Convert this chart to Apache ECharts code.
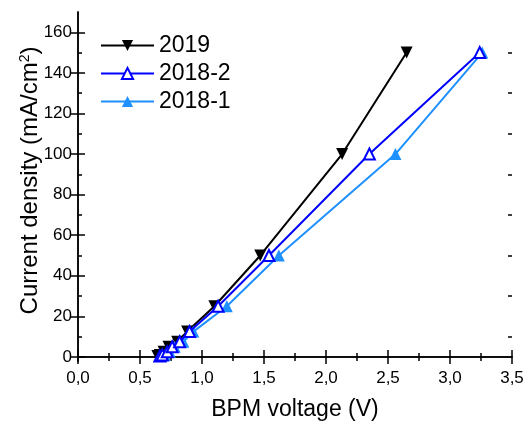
<!DOCTYPE html>
<html>
<head>
<meta charset="utf-8">
<script src="https://cdn.jsdelivr.net/npm/echarts@6/dist/echarts.min.js"></script>
<style>html,body{margin:0;padding:0;background:#fff}#c{width:526px;height:421px}</style>
</head>
<body>
<div id="c"></div>
<script>
const currentDensity = [0.5, 1, 2.5, 5, 7.5, 12.5, 25, 50, 100, 150];
const voltage2019 = [0.64, 0.66, 0.69, 0.73, 0.80, 0.88, 1.10, 1.47, 2.13, 2.65];
const voltage2018_2 = [0.66, 0.68, 0.72, 0.76, 0.82, 0.90, 1.13, 1.54, 2.35, 3.24];
const voltage2018_1 = [0.67, 0.70, 0.74, 0.78, 0.85, 0.93, 1.20, 1.62, 2.56, 3.26];
const yMajorTicks = [0, 20, 40, 60, 80, 100, 120, 140, 160];
const yMinorTicks = [10, 30, 50, 70, 90, 110, 130, 150];
const seriesNames = ['2019', '2018-2', '2018-1'];

const FONT = '"Liberation Sans", Arial, sans-serif';
const pairs = (xs, ys) => xs.map((x, i) => [x, ys[i]]);
const chart = echarts.init(document.getElementById('c'), null, {renderer: 'canvas'});

const axisLine = {show: true, lineStyle: {color: '#000', width: 1.5}};
const xCommon = {
  type: 'value', min: 0, max: 3.5, interval: 0.5,
  axisLine: axisLine, splitLine: {show: false},
  axisTick: {show: true, inside: true, length: 7, lineStyle: {color: '#000', width: 1.5}},
  minorTick: {show: true, splitNumber: 2, length: 4, lineStyle: {color: '#000', width: 1.5}}
};
const yCommon = {
  type: 'value', min: -2, max: 170,
  axisLine: axisLine, splitLine: {show: false}
};

chart.setOption({
  animation: false,
  grid: {left: 78, right: 14, top: 12, bottom: 60, containLabel: false, outerBoundsMode: 'none'},
  legend: {
    data: seriesNames, orient: 'vertical', left: 95, top: 29,
    itemWidth: 53, itemHeight: 14, itemGap: 5,
    textStyle: {fontFamily: FONT, fontSize: 23, color: '#000'}
  },
  xAxis: [
    Object.assign({}, xCommon, {
      position: 'bottom',
      axisLabel: {show: true, fontFamily: FONT, fontSize: 17, color: '#000', margin: 9,
        formatter: v => v.toFixed(1).replace('.', ',')},
      name: 'BPM voltage (V)', nameLocation: 'middle', nameGap: 37, nameMoveOverlap: false,
      nameTextStyle: {fontFamily: FONT, fontSize: 23, color: '#000'}
    }),
    Object.assign({}, xCommon, {position: 'top', axisLabel: {show: false}})
  ],
  yAxis: [
    Object.assign({}, yCommon, {
      position: 'left',
      axisLabel: {show: true, customValues: yMajorTicks, fontFamily: FONT, fontSize: 17, color: '#000', margin: 6},
      axisTick: {show: true, inside: true, length: 7, customValues: yMajorTicks, lineStyle: {color: '#000', width: 1.5}},
      name: 'Current density (mA/cm{sup|2})', nameLocation: 'middle', nameGap: 36, nameMoveOverlap: false,
      nameTextStyle: {fontFamily: FONT, fontSize: 24, color: '#000', padding: [0, 0, 0, 12],
        rich: {sup: {fontFamily: FONT, fontSize: 14, color: '#000', verticalAlign: 'top', padding: [0, 0, 10, 0]}}}
    }),
    Object.assign({}, yCommon, {
      position: 'right',
      axisLabel: {show: false},
      axisTick: {show: true, inside: true, length: 7, customValues: yMajorTicks, lineStyle: {color: '#000', width: 1.5}}
    }),
    Object.assign({}, yCommon, {
      position: 'left', axisLine: {show: false},
      axisLabel: {show: false},
      axisTick: {show: true, inside: true, length: 4, customValues: yMinorTicks, lineStyle: {color: '#000', width: 1.5}}
    }),
    Object.assign({}, yCommon, {
      position: 'right', axisLine: {show: false},
      axisLabel: {show: false},
      axisTick: {show: true, inside: true, length: 4, customValues: yMinorTicks, lineStyle: {color: '#000', width: 1.5}}
    })
  ],
  series: [
    {
      name: '2019', type: 'line', data: pairs(voltage2019, currentDensity),
      color: '#000000', symbol: 'triangle', symbolRotate: 180, symbolSize: 12,
      lineStyle: {width: 2}, z: 2
    },
    {
      name: '2018-1', type: 'line', data: pairs(voltage2018_1, currentDensity),
      color: '#1e90ff', symbol: 'triangle', symbolSize: 12,
      lineStyle: {width: 2}, z: 3
    },
    {
      name: '2018-2', type: 'line', data: pairs(voltage2018_2, currentDensity),
      color: '#0000ff', symbol: 'emptyTriangle', symbolSize: 11,
      itemStyle: {borderWidth: 2}, lineStyle: {width: 2}, z: 4
    }
  ]
});
</script>
</body>
</html>
